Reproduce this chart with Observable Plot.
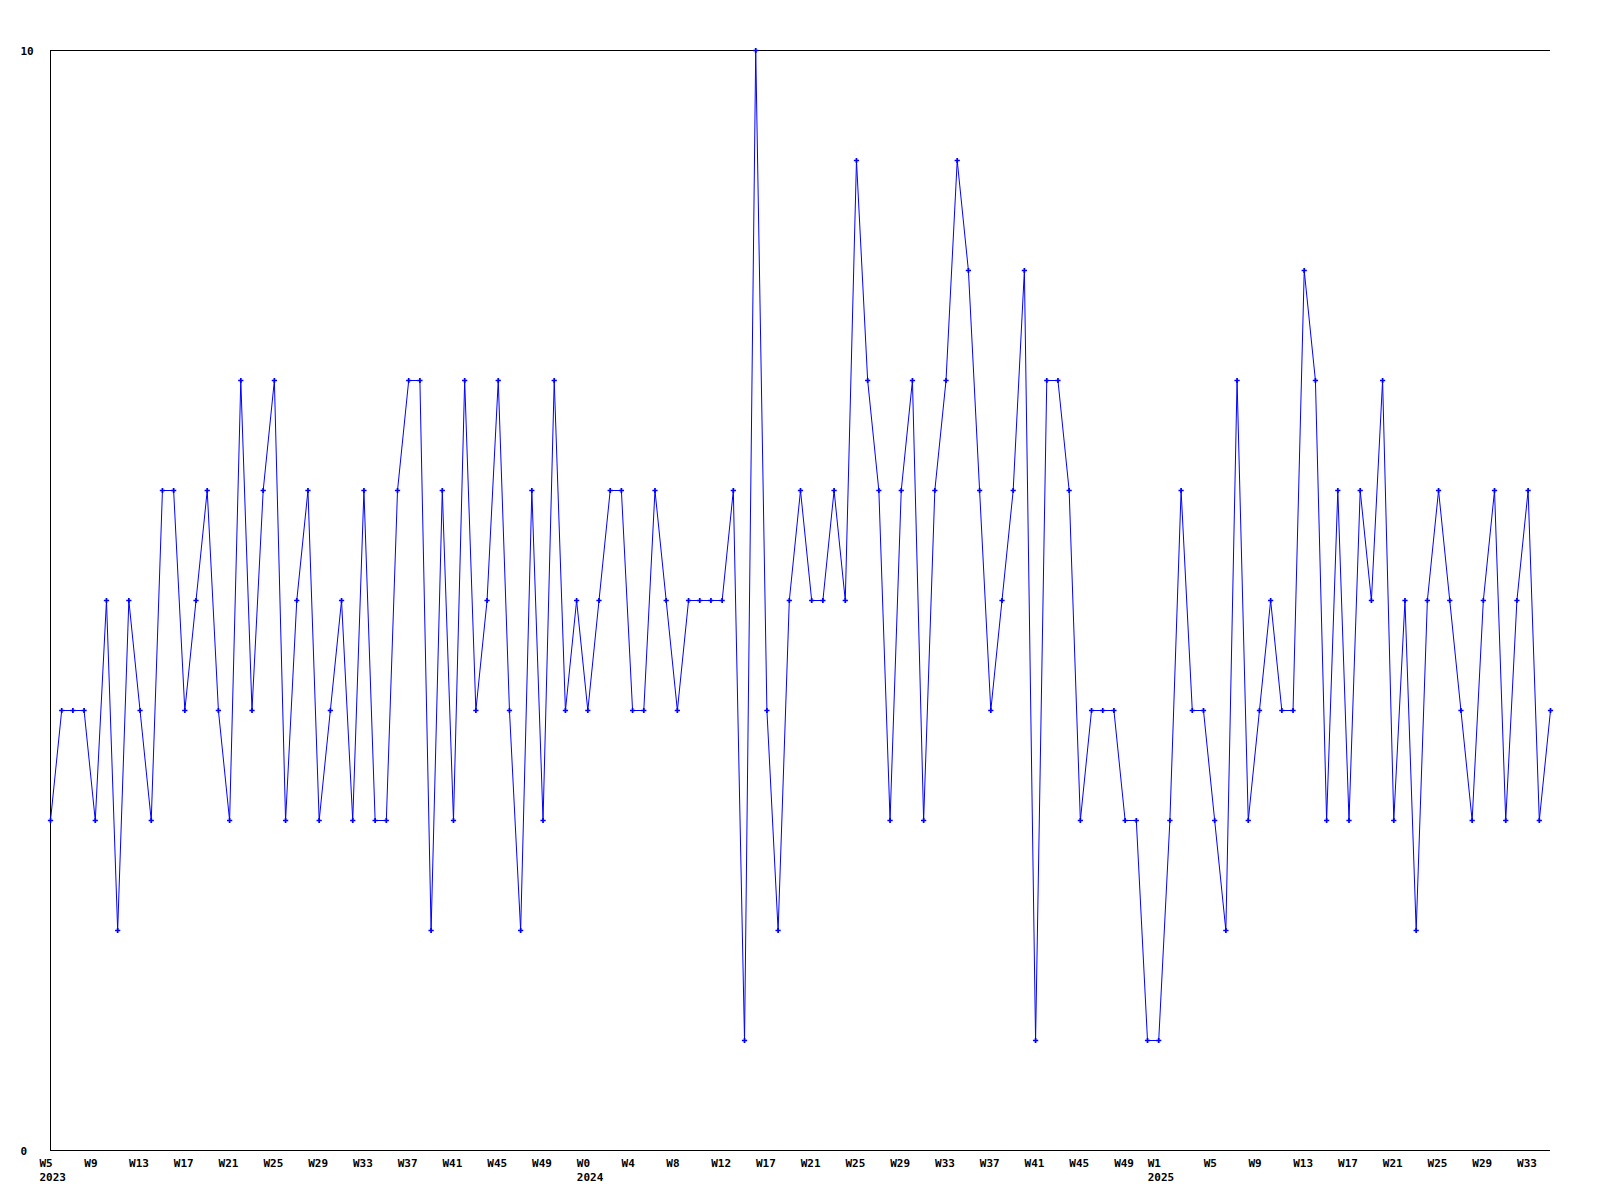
<!DOCTYPE html>
<html>
<head>
<meta charset="utf-8">
<script src="https://cdn.jsdelivr.net/npm/d3@7"></script>
<script src="https://cdn.jsdelivr.net/npm/@observablehq/plot@0.6"></script>
<style>
  html, body { margin: 0; padding: 0; background: #ffffff; }
  #chart svg { display: block; }
</style>
</head>
<body>
<div id="chart"></div>
<script>
// Weekly values, 2023 W5 through 2025 W35 (one value per week)
const values = [
  3,4,4,4,3,5,2,5,4,3,
  6,6,4,5,6,4,3,7,4,6,
  7,3,5,6,3,4,5,3,6,3,
  3,6,7,7,2,6,3,7,4,5,
  7,4,2,6,3,7,4,5,4,5,
  6,6,4,4,6,5,4,5,5,5,
  5,6,1,10,4,2,5,6,5,5,
  6,5,9,7,6,3,6,7,3,6,
  7,9,8,6,4,5,6,8,1,7,
  7,6,3,4,4,4,3,3,1,1,
  3,6,4,4,3,2,7,3,4,5,
  4,4,8,7,3,6,3,6,5,7,
  3,5,2,5,6,5,4,3,5,6,
  3,5,6,3,4
];

// Tick positions (week index) and their labels
const tickWeeks = [0,4,8,12,16,20,24,28,32,36,40,44,
                   48,52,56,60,64,68,72,76,80,84,88,92,96,
                   99,104,108,112,116,120,124,128,132];
const tickLabels = ["W5\n2023","W9","W13","W17","W21","W25","W29","W33","W37","W41","W45","W49",
                    "W0\n2024","W4","W8","W12","W17","W21","W25","W29","W33","W37","W41","W45","W49",
                    "W1\n2025","W5","W9","W13","W17","W21","W25","W29","W33"];

const yTicks = [0, 10];

const data = values.map((v, i) => ({week: i, value: v}));
const labelOf = new Map(tickWeeks.map((w, i) => [w, tickLabels[i]]));

const chart = Plot.plot({
  width: 1600,
  height: 1200,
  marginLeft: 50,
  marginRight: 50,
  marginTop: 50,
  marginBottom: 50,
  style: {
    fontFamily: "'DejaVu Sans Mono', monospace",
    fontSize: "11px",
    fontWeight: "bold",
    color: "#000000",
    background: "#ffffff"
  },
  x: {domain: [0, values.length - 1]},
  y: {domain: [0, 10]},
  marks: [
    Plot.ruleY(yTicks, {stroke: "#000000", strokeWidth: 1}),
    Plot.ruleX([0], {stroke: "#000000", strokeWidth: 1}),
    Plot.axisX({
      ticks: tickWeeks,
      tickFormat: d => labelOf.get(d),
      tickSize: 0,
      tickPadding: 0,
      textAnchor: "start",
      lineAnchor: "top",
      lineHeight: 1.28,
      dx: -11,
      dy: 6,
      label: null,
      fill: "#000000"
    }),
    Plot.axisY({
      ticks: yTicks,
      tickSize: 0,
      tickPadding: 0,
      textAnchor: "start",
      dx: -30,
      dy: 1,
      label: null,
      fill: "#000000"
    }),
    Plot.line(data, {x: "week", y: "value", stroke: "#0000ff", strokeWidth: 1, curve: "linear"}),
    Plot.dot(data, {x: "week", y: "value", symbol: "cross", r: 2.2, fill: "#0000ff", stroke: "none"})
  ]
});

document.getElementById("chart").appendChild(chart);
</script>
</body>
</html>
